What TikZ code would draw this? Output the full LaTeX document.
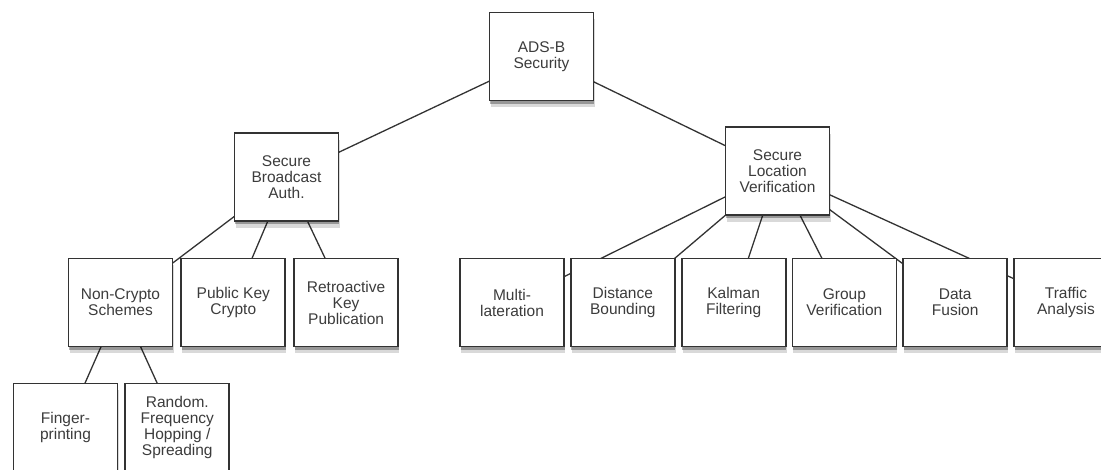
\documentclass[tikz,border=0pt]{standalone}
\usepackage{fontspec}
\setmainfont{Liberation Sans}
\definecolor{BoxLine}{HTML}{333333}
\definecolor{BoxText}{HTML}{3C3C3C}
\usetikzlibrary{positioning,shadows,backgrounds}

\begin{document}
\begin{tikzpicture}[x=1pt,y=1pt,node distance=5pt,
    topic/.style={draw=BoxLine,line width=1.8pt,fill=white,align=center,
      minimum width=104pt,minimum height=88pt,inner sep=2pt,
      text=BoxText,font=\fontsize{15.5}{16}\selectfont,
      drop shadow={shadow xshift=1pt,shadow yshift=-7pt,opacity=0.15,fill=black},
      drop shadow={shadow xshift=0.5pt,shadow yshift=-3.5pt,opacity=0.3,fill=black}},
    link/.style={draw=BoxLine,line width=1.3pt}]
      \useasboundingbox (0,0) rectangle (1101,470);
      \node[topic] (ads) at (541.5,413.5) {ADS-B\\Security};
      \node[topic] (sba) at (286.5,293) {Secure\\Broadcast\\Auth.};
      \node[topic] (slv) at (777.5,299) {Secure\\Location\\Verification};
      \node[topic] (nc) at (120.5,167.5) {Non-Crypto\\Schemes};
      \node[topic,right=7pt of nc] (pk) {Public Key\\Crypto};
      \node[topic,right=7pt of pk] (rk) {Retroactive\\Key\\Publication};
      \node[topic] (ml) at (512,167.5) {Multi-\\lateration};
      \node[topic,right=of ml] (db) {Distance\\Bounding};
      \node[topic,right=of db] (kf) {Kalman\\Filtering};
      \node[topic,right=of kf] (gv) {Group\\Verification};
      \node[topic,right=of gv] (df) {Data\\Fusion};
      \node[topic,right=of df] (ta) {Traffic\\Analysis};
      \node[topic] (fp) at (65.5,42.5) {Finger-\\printing};
      \node[topic,right=6pt of fp] (fh) {Random.\\Frequency\\Hopping /\\Spreading};
      \begin{scope}[on background layer]
        \foreach \x/\y in {ads/sba,ads/slv,sba/nc,sba/pk,sba/rk,slv/ml,slv/db,slv/kf,slv/gv,slv/df,slv/ta,nc/fp,nc/fh}{\draw[link] (\x.center)--(\y.center);}
      \end{scope}
    \end{tikzpicture}
\end{document}
